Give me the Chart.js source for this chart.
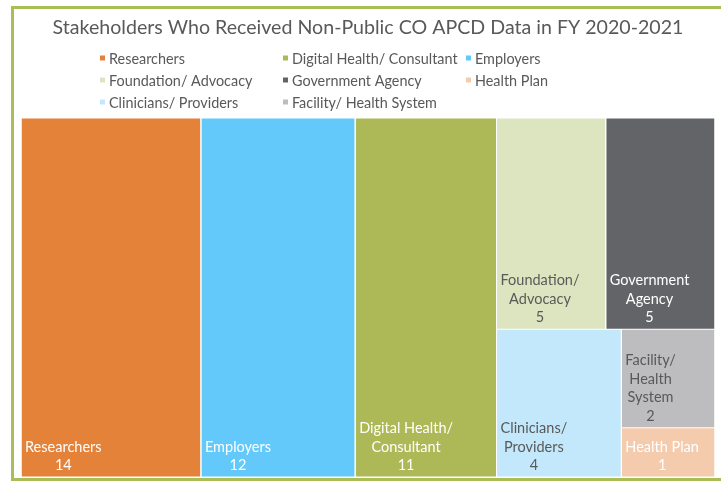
<!DOCTYPE html>
<html>
<head>
<meta charset="utf-8">
<script src="https://cdn.jsdelivr.net/npm/chart.js@4.4.0/dist/chart.umd.min.js"></script>
<style>
  html, body { margin: 0; padding: 0; background: #fff; }
  #wrap { position: relative; width: 721px; height: 483px; overflow: hidden; }
  #frame { position: absolute; left: 11px; top: 6px; width: 720px; height: 469px;
           border: 3px solid #A9BF55; border-right: none; }
  canvas { position: absolute; left: 0; top: 0; }
</style>
</head>
<body>
<div id="wrap">
  <div id="frame"></div>
  <canvas id="treeChart" width="721" height="483"></canvas>
</div>
<script>
// --- data
var categories = ['Researchers', 'Employers', 'Digital Health/ Consultant', 'Foundation/ Advocacy',
                  'Government Agency', 'Clinicians/ Providers', 'Facility/ Health System', 'Health Plan'];
var counts = [14, 12, 11, 5, 5, 4, 2, 1];
// order the legend lists the categories in
var legendOrder = ['Researchers', 'Digital Health/ Consultant', 'Employers', 'Foundation/ Advocacy',
                   'Government Agency', 'Health Plan', 'Clinicians/ Providers', 'Facility/ Health System'];
// how the treemap is split: 'row' = side by side, 'col' = stacked (indexes into categories)
var tiling = ['row', 0, 1, 2, ['col', ['row', 3, 4], ['row', 5, ['col', 6, 7]]]];

// --- styles
var cellColors = ['#E5823A', '#63C8FA', '#ADB957', '#DDE5C0', '#636467', '#C3E8FB', '#BDBDBF', '#F5CBAE'];
var labelColors = ['#fff', '#fff', '#fff', '#595959', '#fff', '#595959', '#595959', '#fff'];
var textGrey = '#595959';
var fontName = 'Lato';

var total = counts.reduce(function (a, b) { return a + b; }, 0);

function nodeSum(n) {
    if (typeof n === 'number') return counts[n];
    var s = 0;
    for (var i = 1; i < n.length; i++) s += nodeSum(n[i]);
    return s;
}

// rectangles in data units: x 0..total, y 0..1
var rects = [];
function place(n, x0, x1, y0, y1) {
    if (typeof n === 'number') { rects[n] = { x0: x0, x1: x1, y0: y0, y1: y1 }; return; }
    var s = nodeSum(n), pos;
    if (n[0] === 'row') {
        pos = x0;
        for (var i = 1; i < n.length; i++) {
            var w = (x1 - x0) * nodeSum(n[i]) / s;
            place(n[i], pos, pos + w, y0, y1);
            pos += w;
        }
    } else {
        pos = y1;
        for (var j = 1; j < n.length; j++) {
            var h = (y1 - y0) * nodeSum(n[j]) / s;
            place(n[j], x0, x1, pos - h, pos);
            pos -= h;
        }
    }
}
place(tiling, 0, total, 0, 1);

var gx = 0.04, gy = 0.0014; // thin white seams between cells

var datasets = categories.map(function (c, i) {
    var r = rects[i];
    return {
        label: c,
        data: [{ x: r.x0 + gx, y: r.y1 - gy }, { x: r.x1 - gx, y: r.y1 - gy }],
        fill: { value: r.y0 + gy },
        backgroundColor: cellColors[i],
        borderColor: 'rgba(0,0,0,0)',
        borderWidth: 0,
        pointRadius: 0,
        tension: 0
    };
});

function wrapWords(ctx, text, maxW) {
    var words = text.split(' '), lines = [], cur = '';
    words.forEach(function (w) {
        var t = cur ? cur + ' ' + w : w;
        if (cur && ctx.measureText(t).width > maxW) { lines.push(cur); cur = w; }
        else cur = t;
    });
    if (cur) lines.push(cur);
    return lines;
}

var cellLabels = {
    id: 'cellLabels',
    afterDatasetsDraw: function (chart) {
        var ctx = chart.ctx, xs = chart.scales.x, ys = chart.scales.y;
        ctx.save();
        ctx.font = '14.5px ' + fontName;
        ctx.textBaseline = 'alphabetic';
        ctx.textAlign = 'center';
        categories.forEach(function (c, i) {
            var r = rects[i];
            var left = xs.getPixelForValue(r.x0), right = xs.getPixelForValue(r.x1);
            var bottom = ys.getPixelForValue(r.y0);
            var lines = wrapWords(ctx, c, right - left - 8);
            lines.push(String(counts[i]));
            var maxW = 0;
            lines.forEach(function (l) { maxW = Math.max(maxW, ctx.measureText(l).width); });
            var cx = left + 4 + maxW / 2;
            ctx.fillStyle = labelColors[i];
            for (var k = 0; k < lines.length; k++) {
                ctx.fillText(lines[k], cx, bottom - 7 - (lines.length - 1 - k) * 18.5);
            }
        });
        ctx.restore();
    }
};

var gridLegend = {
    id: 'gridLegend',
    afterDraw: function (chart) {
        var ctx = chart.ctx;
        ctx.save();
        ctx.font = '14.4px ' + fontName;
        ctx.textBaseline = 'middle';
        ctx.textAlign = 'left';
        legendOrder.forEach(function (name, k) {
            var i = categories.indexOf(name);
            var x = 100 + (k % 3) * 183, y = 58 + Math.floor(k / 3) * 22;
            ctx.fillStyle = cellColors[i];
            ctx.fillRect(x, y - 2.5, 5, 5);
            ctx.fillStyle = textGrey;
            ctx.fillText(name, x + 9, y + 1);
        });
        ctx.restore();
    }
};

new Chart(document.getElementById('treeChart'), {
    type: 'line',
    data: { datasets: datasets },
    options: {
        responsive: false,
        animation: false,
        events: [],
        layout: { padding: { left: 21, right: 6, top: 0, bottom: 6 } },
        scales: {
            x: { type: 'linear', min: 0, max: total, display: false },
            y: { type: 'linear', min: 0, max: 1, display: false }
        },
        plugins: {
            legend: { display: false },
            tooltip: { enabled: false },
            title: {
                display: true,
                text: 'Stakeholders Who Received Non-Public CO APCD Data in FY 2020-2021',
                color: textGrey,
                font: { family: fontName, size: 19.6, weight: 'normal' },
                padding: { top: 16, bottom: 78.5 }
            }
        }
    },
    plugins: [cellLabels, gridLegend]
});
</script>
</body>
</html>
